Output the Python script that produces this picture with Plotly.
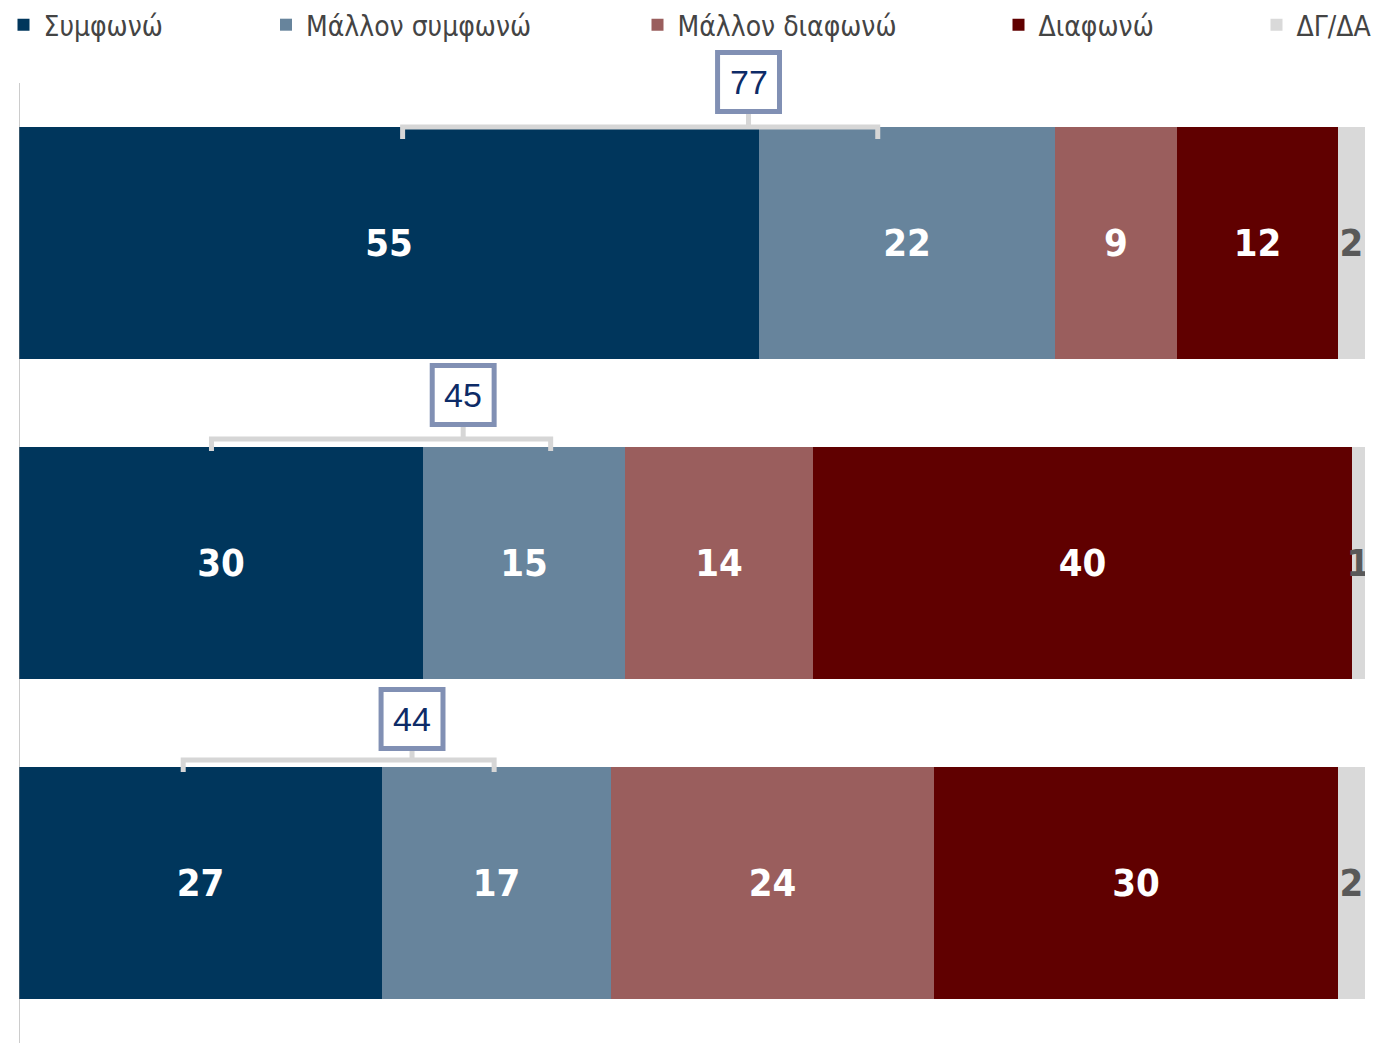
import plotly.graph_objects as go

# ---- data ----
rows = [0, 1, 2]
series_names = ["Συμφωνώ", "Μάλλον συμφωνώ", "Μάλλον διαφωνώ", "Διαφωνώ", "ΔΓ/ΔΑ"]
agree = [55, 30, 27]
rather_agree = [22, 15, 17]
rather_disagree = [9, 14, 24]
disagree = [12, 40, 30]
dk_na = [2, 1, 2]

# ---- styles / layout positions ----
colors = ["#00365c", "#67849c", "#9a5e5d", "#600000", "#d9d9d9"]
label_colors = ["white", "white", "white", "white", "#595959"]
narrow = "Liberation Sans Narrow, Arial Narrow, DejaVu Sans Condensed, sans-serif"
W, H = 1396, 1043
ml, mr = 19, 31
plot_w = W - ml - mr
px_per_unit = 320
legend_page_px = [3.5, 266, 637.5, 998.5, 1256.5]   # legend left edges (pixels)
box_x = [54.2, 33.0, 29.2]
bracket_x0 = [28.5, 14.3, 12.2]
bracket_x1 = [63.8, 39.5, 35.3]
bracket_off_px = [116, 124, 123]      # bracket line height above bar centre
box_bottom_off_px = [129, 136, 132]   # box bottom edge above bar centre
box_h_px, tick_px = 64, 12

values = [agree, rather_agree, rather_disagree, disagree, dk_na]

fig = go.Figure()
for i, (name, vals) in enumerate(zip(series_names, values)):
    lg = "legend" if i == 0 else f"legend{i+1}"
    fig.add_trace(go.Bar(
        y=rows, x=vals, name=name, orientation="h",
        marker=dict(color=colors[i], line=dict(width=0)),
        width=0.725,
        text=[str(v) for v in vals],
        textposition="inside", insidetextanchor="middle",
        constraintext="none",
        textfont=dict(family=narrow, size=38, color=label_colors[i], weight="bold"),
        legend=lg,
        hoverinfo="x+name",
    ))

shapes = []
annotations = []
# y axis line
shapes.append(dict(type="line", xref="x", yref="y", x0=-0.08, x1=-0.08, y0=-0.5, y1=2.6,
                   line=dict(color="#878787", width=3), layer="above"))
u = 1 / px_per_unit
for r in rows:
    tot = agree[r] + rather_agree[r]
    yh = r - bracket_off_px[r] * u
    yd = yh + tick_px * u
    ybot = r - box_bottom_off_px[r] * u
    ytop = ybot - box_h_px * u
    xb = box_x[r]
    path = (f"M {bracket_x0[r]},{yd} L {bracket_x0[r]},{yh} L {bracket_x1[r]},{yh} "
            f"L {bracket_x1[r]},{yd} M {xb},{yh} L {xb},{ybot}")
    shapes.append(dict(type="path", xref="x", yref="y", path=path,
                       line=dict(color="#d6d6d6", width=5), layer="above"))
    shapes.append(dict(type="rect", xref="x", yref="y",
                       x0=xb - 2.3, x1=xb + 2.3, y0=ytop + 2.5 * u, y1=ybot - 2.5 * u,
                       line=dict(color="#8190b4", width=5), fillcolor="white", layer="above"))
    annotations.append(dict(x=xb, y=(ytop + ybot) / 2, xref="x", yref="y", text=str(tot),
                            showarrow=False,
                            font=dict(family="Liberation Sans, Arial, sans-serif", size=34,
                                      color="#0d2b67")))

layout_legends = {}
for i, px in enumerate(legend_page_px):
    key = "legend" if i == 0 else f"legend{i+1}"
    layout_legends[key] = dict(
        x=(px - ml) / plot_w, y=1, xanchor="left", yanchor="top",
        orientation="h", bgcolor="rgba(0,0,0,0)", borderwidth=0,
        font=dict(family=narrow, size=28, color="#444444"),
    )

# y range: 320 px per category, first bar centre at y=243 px
y_top = -243 / px_per_unit
y_bottom = y_top + H / px_per_unit

fig.update_layout(
    width=W, height=H,
    margin=dict(l=ml, r=mr, t=0, b=0),
    barmode="stack",
    bargap=0,
    plot_bgcolor="white", paper_bgcolor="white",
    xaxis=dict(range=[0, 100], visible=False, fixedrange=True),
    yaxis=dict(range=[y_bottom, y_top], visible=False, fixedrange=True),
    shapes=shapes,
    annotations=annotations,
    showlegend=True,
    **layout_legends,
)

fig.write_html("out.html", config={"displayModeBar": False},
               post_script="document.body.style.margin='0px';")
